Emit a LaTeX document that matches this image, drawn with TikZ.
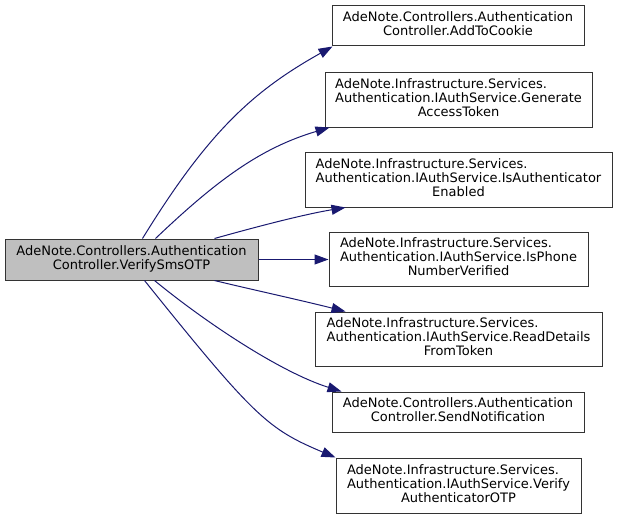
\documentclass[tikz,border=0pt]{standalone}
\usepackage{fontspec}
\setmainfont{DejaVu Sans}
\usetikzlibrary{arrows.meta,calc}
\definecolor{edgeblue}{HTML}{191970}
\definecolor{boxline}{HTML}{333333}
\definecolor{mainfill}{HTML}{BFBFBF}
\newcommand{\dlab}[2]{\begin{tabular}{@{}l@{}}#1\\\multicolumn{1}{@{}c@{}}{#2}\end{tabular}}
\begin{document}
\begin{tikzpicture}[x=1pt,y=-1pt,
  fnbox/.style={draw=boxline, line width=1pt, fill=white, inner sep=0pt,
    font=\fontsize{13}{14}\selectfont},
  call/.style={draw=edgeblue, line width=1pt,
    -{Triangle[length=14pt,width=10pt]}, edgeblue}]
\useasboundingbox (0,0) rectangle (617,519);
\node[fnbox, fill=mainfill, minimum width=253pt, minimum height=41pt] (main) at (131.5,259.5)
  {\dlab{AdeNote.Controllers.Authentication}{Controller.VerifySmsOTP}};
\node[fnbox, minimum width=252pt, minimum height=40pt] (n1) at (458,26)
  {\dlab{AdeNote.Controllers.Authentication}{Controller.AddToCookie}};
\node[fnbox, minimum width=267pt, minimum height=55pt] (n2) at (458.5,99.5)
  {\dlab{AdeNote.Infrastructure.Services.\\Authentication.IAuthService.Generate}{AccessToken}};
\node[fnbox, minimum width=307pt, minimum height=55pt] (n3) at (458.5,179.5)
  {\dlab{AdeNote.Infrastructure.Services.\\Authentication.IAuthService.IsAuthenticator}{Enabled}};
\node[fnbox, minimum width=259pt, minimum height=54pt] (n4) at (458.5,259)
  {\dlab{AdeNote.Infrastructure.Services.\\Authentication.IAuthService.IsPhone}{NumberVerified}};
\node[fnbox, minimum width=287pt, minimum height=54pt] (n5) at (458.5,339)
  {\dlab{AdeNote.Infrastructure.Services.\\Authentication.IAuthService.ReadDetails}{FromToken}};
\node[fnbox, minimum width=252pt, minimum height=40pt] (n6) at (458,412)
  {\dlab{AdeNote.Controllers.Authentication}{Controller.SendNotification}};
\node[fnbox, minimum width=245pt, minimum height=55pt] (n7) at (458.5,485.5)
  {\dlab{AdeNote.Infrastructure.Services.\\Authentication.IAuthService.Verify}{AuthenticatorOTP}};
\draw[call] ($(main.north west)+(138,0)$) .. controls (208,132) and (253,91) .. ($(n1.south west)+(1,0)$);
\draw[call] ($(main.north west)+(151,0)$) .. controls (216,181) and (260,148) .. ($(n2.south west)+(5,0)$);
\draw[call] ($(main.north west)+(210,0)$) .. controls (245,230) and (300,215) .. ($(n3.south west)+(41,0)$);
\draw[call] (main.east) -- (main.east -| n4.west);
\draw[call] ($(main.south west)+(210,0)$) .. controls (245,288) and (300,300) .. ($(n5.north west)+(31,0)$);
\draw[call] ($(main.south west)+(150,0)$) .. controls (205,322) and (280,372) .. ($(n6.north west)+(10,0)$);
\draw[call] ($(main.south west)+(140,0)$) .. controls (255,418) and (268,429) .. (n7.north west);
\end{tikzpicture}
\end{document}
